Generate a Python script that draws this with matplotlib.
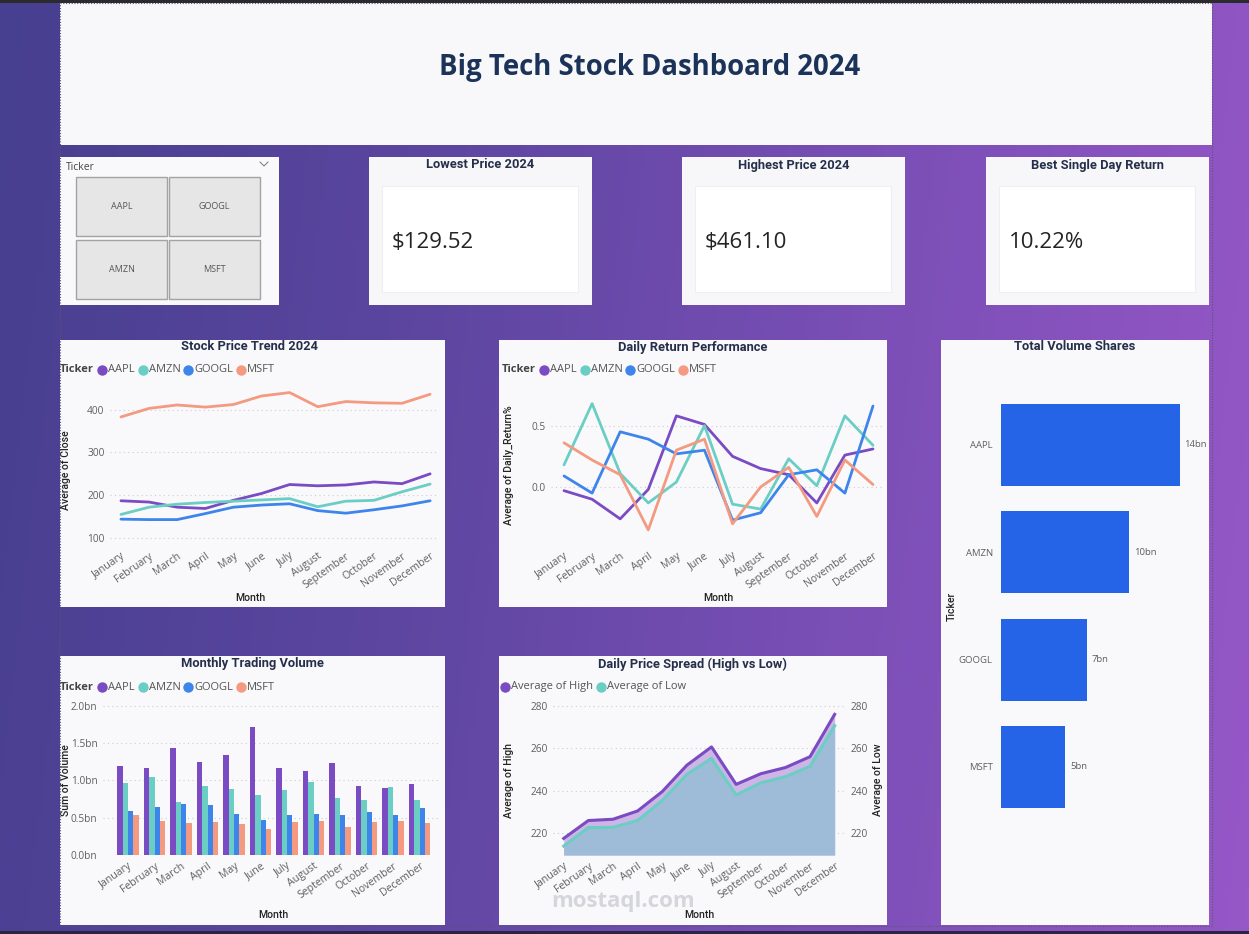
import numpy as np
import matplotlib
matplotlib.use("Agg")
import matplotlib.pyplot as plt
from matplotlib.patches import Rectangle
from matplotlib.colors import LinearSegmentedColormap

# ---- data ----
months = ["January", "February", "March", "April", "May", "June", "July",
          "August", "September", "October", "November", "December"]
tickers = ["AAPL", "AMZN", "GOOGL", "MSFT"]
colors = ["#7a4bc2", "#6bcec4", "#3d85eb", "#f39a80"]

close_aapl = [187, 184, 172, 169, 188, 204, 225, 222, 224, 231, 227, 250]
close_amzn = [155, 172, 179, 183, 186, 189, 192, 173, 186, 188, 208, 226]
close_googl = [144, 143, 143, 157, 172, 177, 180, 164, 158, 166, 175, 187]
close_msft = [383, 403, 411, 406, 412, 432, 440, 407, 419, 416, 415, 436]

ret_aapl = [-0.03, -0.10, -0.26, -0.02, 0.58, 0.51, 0.25, 0.15, 0.10, -0.13, 0.26, 0.31]
ret_amzn = [0.18, 0.68, 0.11, -0.13, 0.04, 0.50, -0.14, -0.18, 0.23, 0.01, 0.58, 0.34]
ret_googl = [0.09, -0.05, 0.45, 0.39, 0.27, 0.30, -0.27, -0.21, 0.10, 0.14, -0.05, 0.66]
ret_msft = [0.36, 0.22, 0.10, -0.35, 0.30, 0.39, -0.30, 0.00, 0.16, -0.24, 0.22, 0.02]

vol_aapl = [1.19, 1.17, 1.44, 1.25, 1.34, 1.72, 1.16, 1.13, 1.24, 0.93, 0.90, 0.95]
vol_amzn = [0.96, 1.05, 0.71, 0.92, 0.89, 0.81, 0.87, 0.98, 0.77, 0.74, 0.91, 0.74]
vol_googl = [0.59, 0.65, 0.68, 0.67, 0.55, 0.47, 0.53, 0.55, 0.54, 0.58, 0.54, 0.63]
vol_msft = [0.53, 0.45, 0.43, 0.44, 0.42, 0.35, 0.44, 0.46, 0.38, 0.44, 0.45, 0.43]

avg_high = [217.6, 226.0, 226.6, 230.5, 239.6, 252.0, 260.6, 243.0, 248.0, 250.9, 256.0, 275.9]
avg_low = [214.0, 222.7, 222.8, 226.0, 235.4, 247.7, 255.2, 238.0, 243.7, 246.6, 251.5, 270.6]

total_volume = [14.0, 10.05, 6.73, 5.03]  # bn

kpi_titles = ["Lowest Price 2024", "Highest Price 2024", "Best Single Day Return"]
kpi_values = ["$129.52", "$461.10", "10.22%"]

close = [close_aapl, close_amzn, close_googl, close_msft]
returns = [ret_aapl, ret_amzn, ret_googl, ret_msft]
volume = [vol_aapl, vol_amzn, vol_googl, vol_msft]

# ---- figure setup ----
W, H = 1249, 934
fig = plt.figure(figsize=(W / 100, H / 100), dpi=100)

SEGOE = ["Open Sans", "DejaVu Sans"]
DIN = ["Roboto", "DejaVu Sans"]
PANEL = "#f9f9fc"
TICK = "#605e5c"
DARK = "#252423"
NAVY = "#252f4a"


def px_axes(x0, y0, x1, y1):
    return fig.add_axes([x0 / W, 1 - y1 / H, (x1 - x0) / W, (y1 - y0) / H])


bg = px_axes(0, 0, W, H)
bg.set_xlim(0, W)
bg.set_ylim(H, 0)
bg.axis("off")

cmap = LinearSegmentedColormap.from_list("bg", ["#473f8f", "#5c46a0", "#7a4fb6", "#9657c7"])
gx, gy = np.meshgrid(np.linspace(0, 1, 300), np.linspace(0, 1, 200))
bg.imshow(gx * 0.92 + gy * 0.08, cmap=cmap, extent=(0, W, H, 0), aspect="auto", zorder=0)
bg.add_patch(Rectangle((0, 0), W, 3, fc="#2b2b2e", ec="none", zorder=1))
bg.add_patch(Rectangle((0, 931), W, 3, fc="#2a2545", ec="none", zorder=1))


def panel(x0, y0, x1, y1, fc=PANEL):
    bg.add_patch(Rectangle((x0, y0), x1 - x0, y1 - y0, fc=fc, ec="none", zorder=2))


# title banner
panel(60, 3, 1212, 145, "#f8f8fb")
bg.text(650, 67, "Big Tech Stock Dashboard 2024", ha="center", va="center",
        fontsize=19.8, fontweight="bold", color="#1b3358", family=SEGOE, zorder=3)

# slicer
panel(60, 157, 279, 305)
bg.text(66, 167, "Ticker", fontsize=7.5, color="#444444", va="center", family=SEGOE, zorder=3)
bg.plot([260, 264, 268], [162, 166, 162], color="#888888", lw=0.8, zorder=3)
slicer_boxes = [(76, 177), (169, 177), (76, 240), (169, 240)]
for (bx, by), name in zip(slicer_boxes, ["AAPL", "GOOGL", "AMZN", "MSFT"]):
    bg.add_patch(Rectangle((bx, by), 91, 59, fc="#e6e6e6", ec="#a3a3a3", lw=1, zorder=3))
    bg.text(bx + 45.5, by + 29.5, name, ha="center", va="center", fontsize=6.5,
            color="#555555", family=SEGOE, zorder=4)

# KPI cards
for (x0, x1), title, value in zip([(369, 592), (682, 905), (986, 1209)], kpi_titles, kpi_values):
    panel(x0, 157, x1, 305, "#f7f7fa")
    bg.add_patch(Rectangle((x0 + 13, 186), x1 - x0 - 27, 106, fc="white", ec="#efeff2", lw=0.8, zorder=3))
    bg.text((x0 + x1) / 2, 165, title, ha="center", va="center", fontsize=9.3,
            fontweight="bold", color=NAVY, family=DIN, zorder=4)
    bg.text(x0 + 23, 242, value, ha="left", va="center", fontsize=16,
            color=DARK, family=SEGOE, zorder=4)

# chart panels
panel(60, 340, 445, 607)
panel(499, 340, 887, 607)
panel(941, 340, 1209, 925)
panel(60, 656, 445, 925)
panel(499, 656, 887, 925)

# dotted canvas selection border
bg.add_patch(Rectangle((60, 3), 1152, 923, fc="none", ec="#5a5478", lw=0.8, ls=(0, (1, 1.5)), zorder=5))

renderer = fig.canvas.get_renderer()


def chart_title(x, y, s):
    bg.text(x, y, s, ha="center", va="center", fontsize=9.3, fontweight="bold",
            color=NAVY, family=DIN, zorder=4)


def axis_title(x, y, s, rot=0):
    bg.text(x, y, s, ha="center", va="center", fontsize=7.6, color=DARK, rotation=rot,
            fontweight="medium", family=DIN, zorder=4)


def legend_row(x, y, labels, cols, title=None):
    if title:
        t = bg.text(x, y, title, fontsize=8, fontweight="bold", color="#444444",
                    va="center", family=SEGOE, zorder=4)
        x = t.get_window_extent(renderer).x1 + 3
    for lab, c in zip(labels, cols):
        bg.plot(x + 5, y, "o", ms=7.5, color=c, mec="none", zorder=4)
        t = bg.text(x + 11, y, lab, fontsize=8, color="#555555", va="center",
                    family=SEGOE, zorder=4)
        x = t.get_window_extent(renderer).x1 + 3


def style(ax, yticks, fmt=None):
    ax.set_facecolor(PANEL)
    for s in ax.spines.values():
        s.set_visible(False)
    ax.tick_params(length=0, labelsize=7.3, colors=TICK, pad=4)
    ax.set_yticks(yticks)
    if fmt:
        ax.set_yticklabels([fmt(v) for v in yticks])
    ax.grid(axis="y", color="#cfcdcb", lw=0.8, ls=(0, (1, 3)))
    ax.set_axisbelow(True)
    ax.set_xticks(range(len(months)))
    ax.set_xticklabels(months, rotation=35, ha="right", rotation_mode="anchor",
                       fontsize=7.6, family=SEGOE, color=TICK)
    for lab in ax.get_yticklabels():
        lab.set_family(SEGOE)


x = np.arange(len(months))

# Stock Price Trend 2024
chart_title(250, 347, "Stock Price Trend 2024")
legend_row(60, 370, tickers, colors, "Ticker")
ax1 = px_axes(110, 385, 438, 545)
for series, c in zip(close, colors):
    ax1.plot(x, series, color=c, lw=2, solid_capstyle="round")
ax1.set_xlim(-0.39, 11.28)
ax1.set_ylim(83.6, 457.7)
style(ax1, [100, 200, 300, 400])
axis_title(250, 598, "Month")
axis_title(66, 470, "Average of Close", 90)

# Daily Return Performance
chart_title(693, 347, "Daily Return Performance")
legend_row(502, 370, tickers, colors, "Ticker")
ax2 = px_axes(551, 395, 883, 545)
for series, c in zip(returns, colors):
    ax2.plot(x, series, color=c, lw=2, solid_capstyle="round")
ax2.set_xlim(-0.463, 11.356)
ax2.set_ylim(-0.473, 0.75)
style(ax2, [0.0, 0.5], lambda v: f"{v:.1f}")
axis_title(718, 598, "Month")
axis_title(509, 465, "Average of Daily_Return%", 90)

# Monthly Trading Volume
chart_title(252, 664, "Monthly Trading Volume")
legend_row(60, 687, tickers, colors, "Ticker")
ax3 = px_axes(103, 695, 440, 855)
for k, (series, c) in enumerate(zip(volume, colors)):
    ax3.bar(x + (k - 1.5) * 0.2, series, width=0.2, color=c)
ax3.set_xlim(-0.943, 11.77)
ax3.set_ylim(0, 2.145)
style(ax3, [0.0, 0.5, 1.0, 1.5, 2.0], lambda v: f"{v:.1f}bn")
axis_title(273, 915, "Month")
axis_title(66, 780, "Sum of Volume", 90)

# Daily Price Spread (High vs Low)
chart_title(693, 664, "Daily Price Spread (High vs Low)")
legend_row(500, 687, ["Average of High", "Average of Low"], [colors[0], colors[1]])
ax4 = px_axes(553, 695, 845, 855)
ybot = 209.8
ax4.fill_between(x, avg_high, ybot, color="#cdb6e6", lw=0)
ax4.fill_between(x, avg_low, ybot, color="#9ebcd7", lw=0)
ax4.plot(x, avg_high, color=colors[0], lw=2.2)
ax4.plot(x, avg_low, color=colors[1], lw=2.2)
ax4.set_xlim(-0.435, 11.42)
ax4.set_ylim(ybot, 285)
style(ax4, [220, 240, 260, 280])
ax4r = ax4.twinx()
ax4r.set_ylim(ybot, 285)
ax4r.set_yticks([220, 240, 260, 280])
for s in ax4r.spines.values():
    s.set_visible(False)
ax4r.tick_params(length=0, labelsize=7.3, colors=TICK, pad=4)
for lab in ax4r.get_yticklabels():
    lab.set_family(SEGOE)
axis_title(699, 915, "Month")
axis_title(509, 780, "Average of High", 90)
axis_title(878, 780, "Average of Low", 90)
bg.text(623, 901, "mostaql.com", ha="center", va="center", fontsize=16, fontweight="bold",
        color="#c9c9d2", alpha=0.75, family=SEGOE, zorder=6)

# Total Volume Shares
chart_title(1075, 347, "Total Volume Shares")
ax5 = px_axes(1001, 390, 1205, 870)
ax5.set_facecolor(PANEL)
ax5.barh(range(len(tickers)), total_volume, height=0.764, color="#2564e6")
for i, v in enumerate(total_volume):
    ax5.text(v + 0.4, i, f"{v:.0f}bn", va="center", fontsize=6.8, color=TICK, family=SEGOE)
ax5.set_xlim(0, 16.0)
ax5.set_ylim(3.96, -0.51)
ax5.set_yticks(range(len(tickers)))
ax5.set_yticklabels(tickers, family=SEGOE)
ax5.set_xticks([])
for s in ax5.spines.values():
    s.set_visible(False)
ax5.tick_params(length=0, labelsize=6.8, colors=TICK, pad=6)
axis_title(952, 606, "Ticker", 90)

fig.savefig("out.png", dpi=100)
